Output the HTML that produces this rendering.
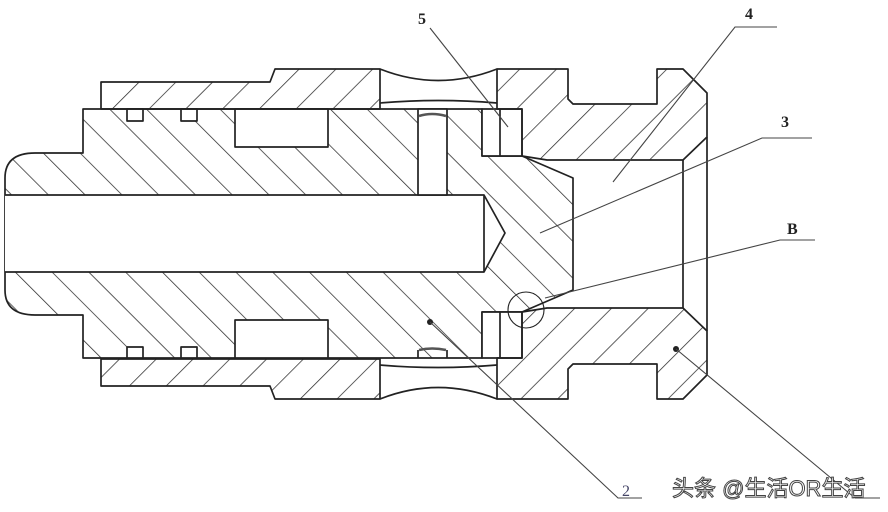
<!DOCTYPE html>
<html><head><meta charset="utf-8"><style>
html,body{margin:0;padding:0;background:#fff;}
svg{display:block;}
</style></head><body>
<svg width="888" height="512" viewBox="0 0 888 512" xmlns="http://www.w3.org/2000/svg">
<defs>
<pattern id="hb" patternUnits="userSpaceOnUse" width="26" height="26" patternTransform="rotate(-45)">
<line x1="0" y1="0" x2="0" y2="26" stroke="#2a2a2a" stroke-width="1.5"/>
</pattern>
<pattern id="hf" patternUnits="userSpaceOnUse" width="26" height="26" patternTransform="rotate(45)">
<line x1="0" y1="0" x2="0" y2="26" stroke="#2a2a2a" stroke-width="1.5"/>
</pattern>
</defs>
<rect width="888" height="512" fill="#fff"/>
<g stroke="#222" stroke-width="1.7" fill="none" stroke-linejoin="round">
<path d="M35,153 H83 V109 H482 V156 H522 L573,178 V290 L522,312 H482 V358 H83 V315 H35 Q5,315 5,290 V178 Q5,153 35,153 Z" fill="url(#hb)"/>
<path d="M5,195 H484 L505,233 L484,272 H5" fill="#fff"/>
<line x1="484" y1="195" x2="484" y2="272"/>
<rect x="418" y="109" width="29" height="86" fill="#fff"/>
<path d="M419,116 Q432,112 446,116" stroke-width="2.5" stroke="#555"/>
<path d="M419,350 Q432,347 446,350" stroke-width="2.5" stroke="#555"/>
<line x1="418" y1="350" x2="418" y2="358"/><line x1="447" y1="350" x2="447" y2="358"/>
<rect x="127" y="109" width="16" height="12" fill="#fff"/>
<rect x="181" y="109" width="16" height="12" fill="#fff"/>
<rect x="127" y="347" width="16" height="11" fill="#fff"/>
<rect x="181" y="347" width="16" height="11" fill="#fff"/>
<rect x="235" y="109" width="93" height="38" fill="#fff"/>
<rect x="235" y="320" width="93" height="38" fill="#fff"/>
<rect x="482" y="109" width="40" height="47" fill="#fff"/>
<line x1="500" y1="109" x2="500" y2="156"/>
<rect x="482" y="312" width="40" height="46" fill="#fff"/>
<line x1="500" y1="312" x2="500" y2="358"/>
<path d="M101,82 H270 L275,69 H380 V109 H101 Z" fill="url(#hf)"/>
<path d="M101,386 H270 L275,399 H380 V359 H101 Z" fill="url(#hf)"/>
<path d="M380,69 Q438,92 497,69 M380,103 Q438,98 497,103 M380,399 Q438,376 497,399 M380,365 Q438,370 497,365" />
<path d="M497,69 H568 V99 L573,104 H657 V69 H683 L707,93 V137 L683,160 H547 L522,156 V109 H497 Z" fill="url(#hf)"/>
<path d="M497,399 H568 V369 L573,364 H657 V399 H683 L707,375 V331 L683,308 H547 L522,312 V358 H497 Z" fill="url(#hf)"/>
<line x1="683" y1="160" x2="683" y2="308"/>
<line x1="707" y1="137" x2="707" y2="331"/>
<circle cx="526" cy="310" r="18" stroke-width="1.1"/>
</g>
<g fill="#222"><circle cx="430" cy="322" r="3"/><circle cx="676" cy="349" r="3"/></g>
<g stroke="#444" stroke-width="1.1" fill="none">
<path d="M430,28 L508,127"/>
<path d="M777,27 H735 L613,182"/>
<path d="M812,138 H762 L540,233"/>
<path d="M815,240 H780 L545,298"/>
<path d="M642,498 H618 L430,322"/>
<path d="M880,498 H855 L676,349"/>
</g>
<g font-family="Liberation Serif, serif" font-weight="bold" font-size="16" fill="#222">
<text x="418" y="24">5</text>
<text x="745" y="19">4</text>
<text x="781" y="127">3</text>
<text x="787" y="234">B</text>
<text x="622" y="496" font-weight="normal" fill="#446">2</text>
</g>
<text x="672" y="496" font-family="Liberation Sans, 'Noto Sans CJK SC', sans-serif" font-size="22" fill="#fff" stroke="#444" stroke-width="1">头条 @生活OR生活</text>
</svg>
</body></html>
